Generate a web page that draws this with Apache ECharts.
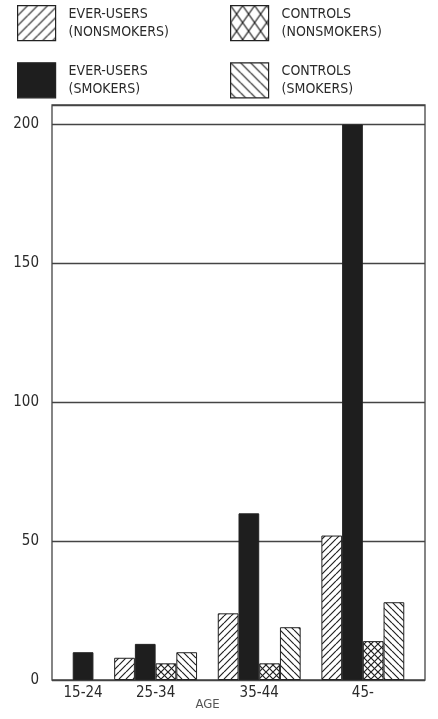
<!DOCTYPE html>
<html>
<head>
<meta charset="utf-8">
<script src="https://cdn.jsdelivr.net/npm/echarts@6/dist/echarts.min.js"></script>
<style>
  html, body { margin: 0; padding: 0; background: #fff; }
  #chart { width: 438px; height: 719px; }
</style>
</head>
<body>
<div id="chart"></div>
<script>
// age groups along the bottom
const ageGroups = ['15-24', '25-34', '35-44', '45-'];
// legend / series names
const seriesNames = [
  'EVER-USERS\n(NONSMOKERS)',
  'EVER-USERS\n(SMOKERS)',
  'CONTROLS\n(NONSMOKERS)',
  'CONTROLS\n(SMOKERS)'
];
// values per age group (null = no bar)
const everUsersNonsmokers = [null, 8, 24, 52];
const everUsersSmokers = [10, 13, 60, 200];
const controlsNonsmokers = [null, 6, 6, 14];
const controlsSmokers = [null, 10, 19, 28];
const yTicks = [0, 50, 100, 150, 200];

const FONT = "'Liberation Sans Narrow', 'DejaVu Sans Condensed', 'Arial Narrow', sans-serif";

// tile patterns for the hatched bars
function makeHatch(dirs, w, h) {
  const c = document.createElement('canvas');
  c.width = w;
  c.height = h;
  const g = c.getContext('2d');
  g.fillStyle = '#fff';
  g.fillRect(0, 0, w, h);
  g.strokeStyle = '#222';
  g.lineWidth = 1.2;
  dirs.forEach(function (d) {
    g.beginPath();
    for (let k = -1; k <= 1; k++) {
      if (d === '/') {
        g.moveTo(k * w, h); g.lineTo(k * w + w, 0);
      } else {
        g.moveTo(k * w, 0); g.lineTo(k * w + w, h);
      }
    }
    g.stroke();
  });
  return { image: c, repeat: 'repeat' };
}

const fills = [makeHatch(['/'], 7, 7), '#1e1e1e', makeHatch(['/', '\\'], 7, 7), makeHatch(['\\'], 7, 7)];
const legendFills = [makeHatch(['/'], 10, 10), '#1e1e1e', makeHatch(['/', '\\'], 12, 17), makeHatch(['\\'], 10, 10)];
const values = [everUsersNonsmokers, everUsersSmokers, controlsNonsmokers, controlsSmokers];

// lay the bars out side by side, only the bars that exist take a slot,
// with one empty slot before, between and after the groups
const slotSeries = values.map(function () { return []; });
const groupCenters = [];
let slot = 1;
ageGroups.forEach(function (grp, gi) {
  const start = slot;
  values.forEach(function (arr, si) {
    if (arr[gi] != null) {
      slotSeries.forEach(function (s, k) { s[slot] = (k === si) ? arr[gi] : null; });
      slot++;
    }
  });
  groupCenters.push((start + slot) / 2);
  slot++; // gap
});
const slotCount = slot;
const slotCats = [];
for (let i = 0; i < slotCount; i++) {
  slotCats.push(String(i));
  slotSeries.forEach(function (s) { if (s[i] === undefined) s[i] = null; });
}

const chart = echarts.init(document.getElementById('chart'));

const series = seriesNames.map(function (name, i) {
  return {
    name: name,
    type: 'bar',
    xAxisIndex: 0,
    data: slotSeries[i],
    barGap: '-100%',
    barCategoryGap: 0,
    itemStyle: { color: fills[i], borderColor: '#222', borderWidth: 1 },
    emphasis: { disabled: true },
    silent: true
  };
});

function legendItem(i) {
  return { name: seriesNames[i], itemStyle: { color: legendFills[i], borderColor: '#222', borderWidth: 1.2 } };
}

const legendBase = {
  orient: 'vertical',
  top: 5,
  padding: 0,
  itemWidth: 38,
  itemHeight: 35,
  itemGap: 21,
  icon: 'rect',
  selectedMode: false,
  textStyle: { fontFamily: FONT, fontSize: 14, lineHeight: 18, color: '#2a2a2a', padding: [0, 0, 0, 8] }
};

chart.setOption({
  animation: false,
  legend: [
    Object.assign({}, legendBase, { left: 17, data: [legendItem(0), legendItem(1)] }),
    Object.assign({}, legendBase, { left: 230, data: [legendItem(2), legendItem(3)] })
  ],
  grid: {
    left: 52, right: 13, top: 105, bottom: 39,
    outerBoundsMode: 'none',
    containLabel: false,
    show: true, borderColor: '#444', borderWidth: 1.3
  },
  xAxis: [
    {
      type: 'category',
      data: slotCats,
      position: 'bottom',
      axisLine: { show: false },
      axisTick: { show: false },
      axisLabel: { show: false }
    },
    {
      type: 'value',
      min: 0,
      max: slotCount,
      position: 'bottom',
      axisLine: { show: false },
      axisTick: { show: false },
      splitLine: { show: false },
      axisLabel: {
        customValues: groupCenters,
        formatter: function (v) {
          const i = groupCenters.indexOf(v);
          return i >= 0 ? ageGroups[i] : '';
        },
        fontFamily: FONT, fontSize: 15, color: '#2a2a2a', margin: 6
      },
      name: 'AGE',
      nameLocation: 'middle',
      nameGap: 18,
      nameMoveOverlap: false,
      nameTextStyle: { fontFamily: FONT, fontSize: 13, color: '#555', padding: [0, 62, 0, 0] }
    }
  ],
  yAxis: {
    type: 'value',
    min: 0,
    max: 207,
    interval: yTicks[1] - yTicks[0],
    axisLine: { show: false },
    axisTick: { show: false },
    splitLine: { lineStyle: { color: '#444', width: 1.3 } },
    axisLabel: {
      showMaxLabel: false,
      fontFamily: FONT, fontSize: 15, color: '#2a2a2a', margin: 13,
      padding: [0, 0, 6, 0]
    }
  },
  series: series
});
</script>
</body>
</html>
